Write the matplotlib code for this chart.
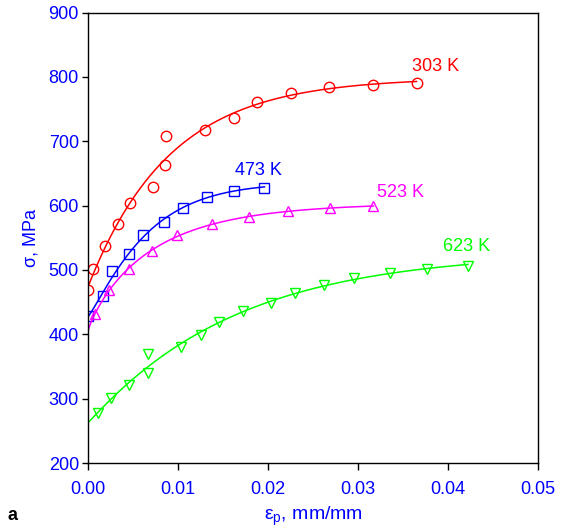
import numpy as np
import matplotlib
matplotlib.use('Agg')
import matplotlib.pyplot as plt

plt.rcParams['font.family'] = ['Liberation Sans', 'DejaVu Sans']
plt.rcParams['mathtext.fontset'] = 'custom'
plt.rcParams['mathtext.rm'] = 'Liberation Sans'
plt.rcParams['mathtext.it'] = 'Liberation Sans:italic'

# 소성 변형률 - 유동응력 측정값 (온도별)
eps_303 = [0.0000, 0.0006, 0.0019, 0.0033, 0.0047, 0.0072, 0.0086, 0.0087,
           0.0130, 0.0162, 0.0188, 0.0225, 0.0268, 0.0317, 0.0365]
sig_303 = [469, 502, 537, 571, 604, 629, 663, 708, 718, 736, 761, 775, 784, 788, 791]

eps_473 = [0.0000, 0.0017, 0.0027, 0.0046, 0.0061, 0.0084, 0.0106, 0.0132, 0.0162, 0.0196]
sig_473 = [428, 459, 498, 524, 554, 575, 597, 614, 623, 628]

eps_523 = [0.0008, 0.0023, 0.0046, 0.0071, 0.0099, 0.0138, 0.0179, 0.0222, 0.0269, 0.0317]
sig_523 = [432, 469, 502, 530, 554, 571, 582, 592, 596, 599]

eps_623 = [0.0011, 0.0026, 0.0045, 0.0067, 0.0067, 0.0103, 0.0125, 0.0146, 0.0172,
           0.0203, 0.0230, 0.0262, 0.0295, 0.0336, 0.0377, 0.0422]
sig_623 = [278, 301, 321, 340, 370, 380, 399, 419, 436, 449, 464, 477, 488, 496, 502, 506]

series = [
    ('303 K', eps_303, sig_303, 'red', 'o', 7.5, (0.0360, 816)),
    ('473 K', eps_473, sig_473, 'blue', 's', 6.5, (0.0163, 655)),
    ('523 K', eps_523, sig_523, 'magenta', '^', 7.5, (0.0321, 620)),
    ('623 K', eps_623, sig_623, 'lime', 'v', 7.5, (0.0394, 537)),
]


def hockett_sherby(x, y):
    # sigma = A + B*exp(-c*eps^n); c, n 격자 탐색 후 A, B 최소자승
    x = np.asarray(x)
    y = np.asarray(y, dtype=float)
    best = None
    for n in np.linspace(0.5, 1.5, 41):
        for c in np.geomspace(1, 5000, 300):
            A = np.column_stack([np.ones_like(x), np.exp(-c * x ** n)])
            coef, *_ = np.linalg.lstsq(A, y, rcond=None)
            err = np.sum((A @ coef - y) ** 2)
            if best is None or err < best[0]:
                best = (err, coef, c, n)
    _, (a, b), c, n = best
    return lambda e: a + b * np.exp(-c * e ** n)


fig = plt.figure(figsize=(5.69, 5.30), dpi=100)
ax = fig.add_axes([0.1547, 0.1264, 0.7909, 0.8500])

for label, x, y, color, marker, ms, (tx, ty) in series:
    f = hockett_sherby(x, y)
    xs = np.linspace(0, max(x), 300)
    ax.plot(xs, f(xs), color=color, lw=1.1)
    ax.plot(x, y, linestyle='none', marker=marker, ms=ms, mfc='none',
            mec=color, mew=1.0)
    ax.text(tx, ty, label, color=color, fontsize=13, ha='left', va='center')

ax.set_xlim(0, 0.05)
ax.set_ylim(200, 900)
ax.set_xticks([0, 0.01, 0.02, 0.03, 0.04, 0.05])
ax.set_xticklabels(['0.00', '0.01', '0.02', '0.03', '0.04', '0.05'])
ax.set_yticks(range(200, 1000, 100))

ax.tick_params(axis='x', direction='out', length=5, width=1.0, pad=8,
               labelsize=13, labelcolor='blue')
ax.tick_params(axis='y', direction='out', length=4, width=1.0, pad=2.5,
               labelsize=13, labelcolor='blue')
for s in ax.spines.values():
    s.set_linewidth(1.0)

ax.set_xlabel(r'ε$_\mathrm{p}$, mm/mm', fontsize=14, color='blue')
ax.set_ylabel('σ, MPa', fontsize=13, color='blue')
ax.yaxis.set_label_coords(-0.108, 0.5)
ax.xaxis.set_label_coords(0.5, -0.092)

fig.text(0.014, 0.028, 'a', fontsize=13, fontweight='bold', ha='left', va='center')

plt.savefig('out.png', dpi=100)
